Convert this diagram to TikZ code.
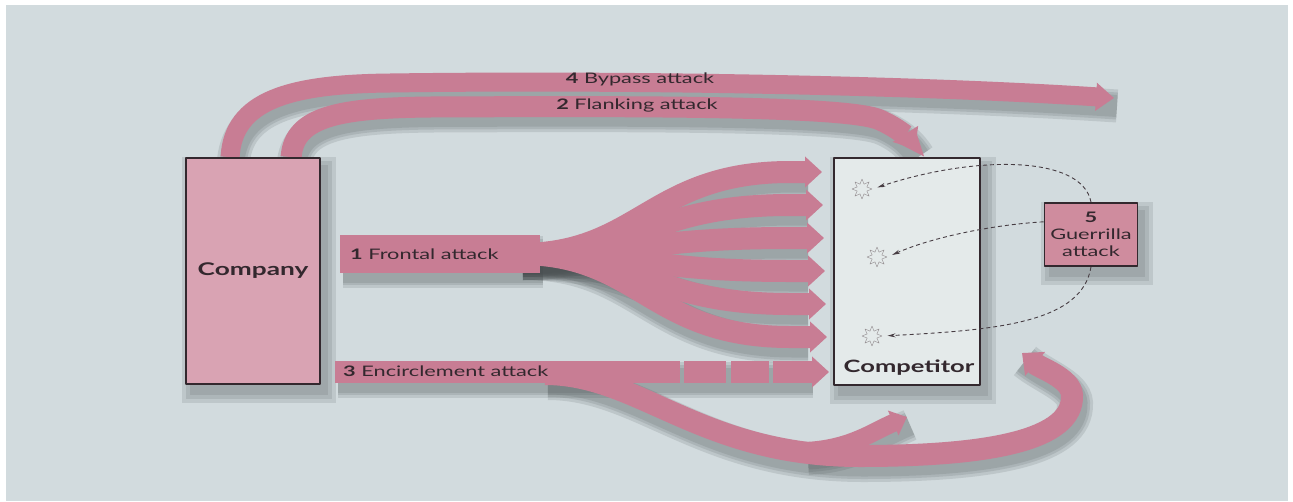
\documentclass[tikz,border=0pt]{standalone}
\usepackage{fontspec}
\setmainfont{Lato}[FakeStretch=1.5]
\usetikzlibrary{calc,arrows.meta,shapes.geometric}
\pgfdeclarelayer{bands}
\pgfsetlayers{bands,main}
\providecommand{\Attack}{C87D94}
\providecommand{\Home}{D9A3B3}
\providecommand{\Rival}{E4EAEA}
\providecommand{\Paper}{D2DBDE}
\newcommand{\Unit}{1pt}
\newcommand{\Band}{22pt}
\definecolor{attack}{HTML}{\Attack}
\definecolor{home}{HTML}{\Home}
\definecolor{rival}{HTML}{\Rival}
\definecolor{paper}{HTML}{\Paper}
\definecolor{raider}{HTML}{CF8C9E}
\definecolor{ink}{HTML}{33282E}
\definecolor{shadow}{HTML}{4A5052}

\tikzset{
  firm/.style={draw=ink, line width=1.8pt, text=ink, font=\bfseries\fontsize{17.5}{20}\selectfont},
  firmname/.style={text=ink, font=\bfseries\fontsize{17}{20}\selectfont, inner sep=0pt},
  band/.style={draw=attack, line width=\Band, -{Triangle[length=17pt,width=30pt]}},
  shade/.style={draw=shadow, opacity=0.15, transform canvas={xshift=3pt,yshift=-8pt}},
  boxshade/.style={fill=shadow, opacity=0.14},
  tag/.style={text=ink, font=\fontsize{14.5}{16}\selectfont, inner sep=0pt},
  blast/.style={star, star points=8, star point ratio=1.9, minimum size=20pt, inner sep=0pt,
    draw=ink!55, line width=0.4pt},
  raid/.style={draw=ink!90, line width=0.9pt, dash pattern=on 4pt off 3pt, shorten >=5pt,
    -{Stealth[length=8pt,width=4pt]}},
}

% shadow of a band: the same path a few times, wider and fainter
\newcommand{\Shade}[2]{\foreach \w in {14,8,3}{\draw[shade, line width=#1+\w pt] #2;}}
% shadow of a box, same idea
\newcommand{\BoxShade}[1]{\foreach \g in {9,5,1}{\fill[boxshade]
  ($(#1.north west)+(6-\g,9-\g)$) rectangle ($(#1.south east)+(6+\g,9+\g)$);}}

\begin{document}
\begin{tikzpicture}[x=\Unit,y=-\Unit, line join=round]

  \useasboundingbox (0,0) rectangle (1293,501);

  % ---- the two firms and the raider ----------------------------------------
  \node[firm, fill=home, minimum width=134pt, minimum height=226pt] (company) at (253,271) {Company};
  \node[firm, fill=rival, minimum width=146pt, minimum height=227pt] (competitor) at (907,271.5) {};
  \node[firmname] (competitor-label) at (909,368) {Competitor};
  \node[firm, fill=raider, minimum width=93pt, minimum height=63pt, align=center, inner sep=1pt,
    font=\fontsize{14.5}{17}\selectfont] (guerrilla) at (1091,234.5) {\textbf{5}\\Guerrilla\\attack};

  % the hits inside the competitor
  \node[blast] (hit1) at (862,189) {};
  \node[blast] (hit2) at (877,257) {};
  \node[blast] (hit3) at (872,336) {};

  % free ends of the bands
  \coordinate (bypass-end) at (1114,98);
  \coordinate (flank-end) at ($(competitor.north)+(8,-8)$);
  \coordinate (front-root) at (340,254);
  \coordinate (encircle-root) at (335,372);
  \coordinate (encircle-end) at (829,372);
  \coordinate (hook-end) at (1022,353);
  \coordinate (nick-end) at (907,417);

  \newcommand{\BypassPath}{($(company.north west)+(45,0)$) .. controls (233,100) and (290,84) .. (390,83)
    .. controls (600,80) and (900,84) .. (bypass-end)}
  \newcommand{\FlankPath}{($(company.north west)+(106,0)$) .. controls (294,116) and (340,108) .. (430,107)
    .. controls (650,106) and (850,106) .. (880,120) .. controls (898,128) and (908,138) .. (flank-end)}
  \newcommand{\LowerPath}{(545,374) .. controls (640,374) and (700,456) .. (860,456)
    .. controls (990,456) and (1074,440) .. (1072,395) .. controls (1071,378) and (1040,368) .. (hook-end)}
  \newcommand{\NickPath}{(805,451) .. controls (850,449) and (872,432) .. (nick-end)}

  \begin{pgfonlayer}{bands}
    \fill[white] (0,0) rectangle (1293,501);
    \fill[paper] (6,5) rectangle (1288,501);

    % ---- shadows under boxes and bands --------------------------------------
    \BoxShade{company}
    \BoxShade{competitor}
    \BoxShade{guerrilla}
    \Shade{19pt}{\BypassPath}
    \Shade{21pt}{\FlankPath}
    \Shade{38pt}{(front-root) -- (540,254)}
    \foreach \k in {0,...,5} {
      \pgfmathsetmacro\y{172+33*\k}
      \Shade{\Band}{(520,254) .. controls (640,254) and (650,\y) .. (790,\y) -- (805,\y)}
    }
    \Shade{\Band}{(encircle-root) -- (810,372)}
    \Shade{\Band}{\LowerPath}
    \Shade{18pt}{\NickPath}

    % ---- 4 and 2: round the top ---------------------------------------------
    \draw[band, line width=19pt, -{Triangle[length=18pt,width=27pt]}] \BypassPath;
    \draw[band, line width=21pt, -{Triangle[length=18pt,width=29pt]}] \FlankPath;

    % ---- 1: the frontal fan ---------------------------------------------------
    \draw[band, line width=38pt, -] (front-root) -- (540,254);
    \foreach \k in {0,...,5} {
      \pgfmathsetmacro\y{172+33*\k}
      \draw[band] (520,254) .. controls (640,254) and (650,\y) .. (790,\y) -- (822+\k,\y);
    }

    % ---- 3: encirclement, below and then round the back ---------------------
    \draw[band] \LowerPath;
    \draw[band, line width=18pt, -{Triangle[length=15pt,width=26pt]}] \NickPath;
    \draw[band, -] (encircle-root) -- (680,372);
    \foreach \a/\b in {684/726,731/769} {
      \draw[band, -] (\a,372) -- (\b,372);
    }
    \draw[band] (773,372) -- (encircle-end);
  \end{pgfonlayer}

  % ---- labels on the bands ------------------------------------------------------
  \node[tag] (bypass-label) at (640,79) {\textbf{4} Bypass attack};
  \node[tag] (flank-label) at (637,105) {\textbf{2} Flanking attack};
  \node[tag, anchor=west] (front-label) at (350,254) {\textbf{1} Frontal attack};
  \node[tag, anchor=west] (encircle-label) at (343,371) {\textbf{3} Encirclement attack};

  % ---- 5: the guerrilla raids ------------------------------------------------
  \draw[raid] (guerrilla.north) .. controls (1082,155) and (975,155) .. (hit1.east);
  \draw[raid] (guerrilla.165) .. controls (990,225) and (930,238) .. (hit2.east);
  \draw[raid] (guerrilla.south) .. controls (1082,322) and (1000,330) .. (hit3.east);

\end{tikzpicture}
\end{document}
